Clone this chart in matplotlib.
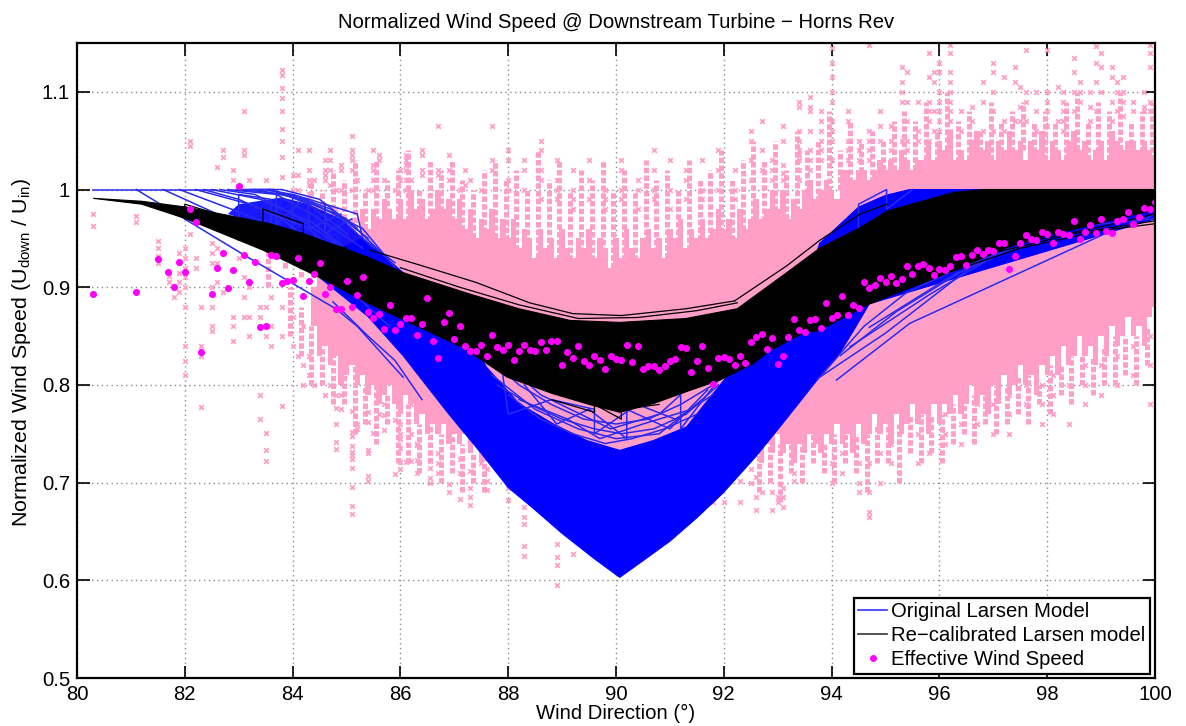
import matplotlib
matplotlib.use('Agg')
import matplotlib.pyplot as plt
from matplotlib.lines import Line2D

plt.rcParams['font.family'] = ['Liberation Sans', 'DejaVu Sans']
plt.rcParams['mathtext.fontset'] = 'custom'
plt.rcParams['mathtext.rm'] = 'Liberation Sans'

PINK = '#ff9fc8'
BLUE = '#0000ff'
LINE_BLUE = '#2a2aee'
MAGENTA = '#ff00ff'

# dense part of the measurements, one column per direction bin
pink_dir = [84.4, 84.5, 84.6, 84.7, 84.8, 84.9,
            85.0, 85.1, 85.2, 85.3, 85.4, 85.5, 85.6, 85.7, 85.8, 85.9,
            86.0, 86.1, 86.2, 86.3, 86.4, 86.5, 86.6, 86.7, 86.8, 86.9,
            87.0, 87.1, 87.2, 87.3, 87.4, 87.5, 87.6, 87.7, 87.8, 87.9,
            88.0, 88.1, 88.2, 88.3, 88.4, 88.5, 88.6, 88.7, 88.8, 88.9,
            89.0, 89.1, 89.2, 89.3, 89.4, 89.5, 89.6, 89.7, 89.8, 89.9,
            90.0, 90.1, 90.2, 90.3, 90.4, 90.5, 90.6, 90.7, 90.8, 90.9,
            91.0, 91.1, 91.2, 91.3, 91.4, 91.5, 91.6, 91.7, 91.8, 91.9,
            92.0, 92.1, 92.2, 92.3, 92.4, 92.5, 92.6, 92.7, 92.8, 92.9,
            93.0, 93.1, 93.2, 93.3, 93.4, 93.5, 93.6, 93.7, 93.8, 93.9,
            94.0, 94.1, 94.2, 94.3, 94.4, 94.5, 94.6, 94.7, 94.8, 94.9,
            95.0, 95.1, 95.2, 95.3, 95.4, 95.5, 95.6, 95.7, 95.8, 95.9,
            96.0, 96.1, 96.2, 96.3, 96.4, 96.5, 96.6, 96.7, 96.8, 96.9,
            97.0, 97.1, 97.2, 97.3, 97.4, 97.5, 97.6, 97.7, 97.8, 97.9,
            98.0, 98.1, 98.2, 98.3, 98.4, 98.5, 98.6, 98.7, 98.8, 98.9,
            99.0, 99.1, 99.2, 99.3, 99.4, 99.5, 99.6, 99.7, 99.8, 99.9, 100.0]
pink_top = [.90, .92, .91, .93, .94, .93,
            .95, .97, .95, .98, .96, .98, .97, .99, .98, .97,
            .99, .97, 1.0, .98, .99, .97, .98, 1.0, .98, .99,
            .97, .99, .96, .98, .95, .97, .96, .98, .95, .97,
            .95, .97, .94, .96, .95, .93, .96, .94, .95, .93,
            .96, .94, .93, .95, .94, .96, .93, .95, .94, .92,
            .95, .93, .96, .94, .93, .95, .96, .94, .95, .93,
            .96, .95, .97, .94, .96, .95, .97, .95, .96, .98,
            .96, .97, .95, .98, .96, .97, .99, .97, .98, 1.0,
            .98, 1.0, .97, .99, .98, 1.0, 1.01, .99, 1.0, 1.01,
            1.0, .99, 1.02, 1.02, 1.01, 1.02, 1.02, 1.01, 1.02, 1.03,
            1.02, 1.03, 1.02, 1.04, 1.03, 1.02, 1.03, 1.03, 1.05, 1.03,
            1.05, 1.04, 1.06, 1.03, 1.04, 1.03, 1.05, 1.06, 1.04, 1.05,
            1.03, 1.05, 1.04, 1.06, 1.04, 1.05, 1.03, 1.05, 1.04, 1.06,
            1.03, 1.05, 1.04, 1.03, 1.05, 1.06, 1.04, 1.05, 1.03, 1.04,
            1.05, 1.03, 1.06, 1.05, 1.04, 1.05, 1.05, 1.04, 1.05, 1.04, 1.03]
pink_low = [.86, .83, .84, .82, .83, .80,
            .81, .82, .80, .81, .79, .80, .78, .79, .80, .78,
            .77, .79, .78, .76, .77, .75, .76, .75, .76, .74,
            .75, .74, .75, .73, .74, .72, .73, .74, .73, .72,
            .72, .72, .72, .72, .72, .72, .72, .72, .72, .72,
            .72, .72, .72, .72, .72, .72, .72, .72, .72, .72,
            .72, .72, .72, .72, .72, .72, .72, .72, .72, .72,
            .72, .72, .72, .72, .72, .72, .72, .72, .72, .72,
            .72, .73, .72, .73, .72, .74, .73, .72, .74, .73,
            .75, .73, .74, .72, .74, .73, .75, .74, .73, .75,
            .74, .76, .74, .75, .73, .76, .74, .75, .77, .75,
            .76, .74, .77, .75, .76, .78, .76, .77, .75, .78,
            .76, .78, .77, .79, .77, .78, .80, .78, .79, .77,
            .80, .78, .81, .79, .80, .82, .80, .81, .79, .82,
            .81, .83, .81, .84, .82, .83, .85, .83, .84, .82,
            .85, .83, .86, .84, .85, .87, .85, .86, .84, .87, .88]

# columns of stacked crosses above the dense part
stack_dir = [83.55, 83.85, 84.15, 84.35, 84.55, 84.75, 84.95, 85.15, 85.35, 85.55, 85.75, 85.95,
             86.15, 86.35, 86.55, 86.75, 86.95, 87.15, 87.35, 87.55, 87.75, 87.95,
             88.15, 88.35, 88.55, 88.75, 88.95, 89.15, 89.35, 89.55, 89.75, 89.95,
             90.15, 90.35, 90.55, 90.75, 90.95, 91.15, 91.35, 91.55, 91.75, 91.95,
             92.15, 92.35, 92.55, 92.75, 92.95, 93.15, 93.35, 93.55, 93.75, 93.95,
             94.15, 94.35, 94.55, 94.75, 94.95, 95.15, 95.35, 95.55, 95.75, 95.95,
             96.15, 96.35, 96.55, 96.75, 96.95, 97.15, 97.35, 97.55, 97.75, 97.95,
             98.15, 98.35, 98.55, 98.75, 98.95, 99.15, 99.35, 99.55, 99.75, 99.95]
stack_top = [.95, .99, .97, 1.01, 1.0, 1.02, 1.01, 1.03, 1.0, 1.03, 1.01, 1.02,
             1.04, 1.0, 1.03, 1.02, 1.03, 1.01, 1.0, 1.02, 1.03, 1.01,
             1.02, 1.0, 1.04, 1.01, 1.03, 1.0, 1.02, 1.01, 1.03, 1.0,
             1.02, 1.0, 1.03, 1.01, 1.02, 1.0, 1.03, 1.01, 1.02, 1.04,
             1.01, 1.03, 1.05, 1.03, 1.05, 1.02, 1.06, 1.04, 1.05, 1.08,
             1.04, 1.07, 1.05, 1.06, 1.05, 1.07, 1.08, 1.07, 1.09, 1.06,
             1.10, 1.07, 1.08, 1.06, 1.09, 1.07, 1.08, 1.09, 1.07, 1.08,
             1.07, 1.09, 1.10, 1.07, 1.09, 1.08, 1.10, 1.07, 1.08, 1.09]
stack_bottom = [.90, .92, .91, .93, .88, .90, .93, .95, .96, .96, .96, .97,
                .96, .97, .96, .97, .96, .95, .95, .94, .95, .94,
                .93, .93, .93, .93, .92, .92, .92, .92, .92, .92,
                .92, .92, .93, .92, .93, .93, .93, .94, .94, .94,
                .94, .95, .96, .96, .97, .97, .97, .98, .98, .99,
                1.0, 1.0, 1.01, 1.0, 1.02, 1.02, 1.02, 1.02, 1.03, 1.02,
                1.04, 1.02, 1.03, 1.03, 1.03, 1.03, 1.03, 1.04, 1.03, 1.03,
                1.03, 1.03, 1.04, 1.03, 1.03, 1.03, 1.04, 1.03, 1.03, 1.03]

# columns of stacked crosses below the dense part
under_dir = [83.95, 84.15, 84.35, 84.55, 84.75, 84.95, 85.15, 85.35, 85.55, 85.75, 85.95,
             86.15, 86.35, 86.55, 86.75, 86.95, 87.15, 87.35, 87.55,
             92.65, 92.85, 93.05, 93.25, 93.45, 93.65, 93.85, 94.05, 94.25, 94.45, 94.65, 94.85,
             95.05, 95.25, 95.45, 95.65, 95.85, 96.05, 96.25, 96.45, 96.65, 96.85,
             97.05, 97.25, 97.45, 97.65, 97.85, 98.05, 98.25, 98.45, 98.65, 98.85,
             99.05, 99.25, 99.45, 99.65, 99.85]
under_top = [.90, .88, .86, .84, .84, .82, .82, .80, .80, .79, .79,
             .78, .76, .76, .75, .75, .74, .73, .74,
             .74, .74, .74, .74, .74, .75, .74, .75, .75, .75, .75, .76,
             .76, .76, .77, .77, .77, .77, .78, .78, .79, .79,
             .80, .80, .81, .81, .80, .82, .82, .83, .83, .83,
             .84, .85, .85, .85, .86]
under_low = [.85, .83, .80, .80, .78, .78, .75, .76, .74, .76, .72,
             .72, .71, .72, .70, .71, .69, .70, .69,
             .69, .70, .68, .71, .70, .72, .71, .70, .72, .71, .69, .72,
             .72, .70, .73, .72, .73, .72, .74, .75, .74, .76,
             .75, .76, .77, .76, .78, .77, .79, .78, .80, .79,
             .80, .80, .81, .80, .82]

# sparse measurements, values listed per direction bin
sparse_dir = [80.3, 81.1, 81.5, 81.7, 81.8, 81.9, 82.0, 82.1, 82.2, 82.3, 82.5, 82.6, 82.7, 82.9, 83.0,
              83.1, 83.2, 83.4, 83.5, 83.6, 83.8, 84.0, 84.1, 84.2, 84.3, 84.4, 84.6, 84.7, 84.8, 84.9,
              85.1, 85.2, 85.4, 85.5, 85.6, 85.7, 85.9, 86.0, 86.1, 86.2, 86.3, 86.4, 86.55, 86.7, 86.9,
              87.1, 87.2, 87.3, 87.5, 87.6, 87.7, 88.0, 88.3, 88.6, 88.9, 89.2, 89.5, 89.8, 90.1, 90.4,
              90.7, 91.0, 91.3, 91.6, 91.8, 91.9, 92.0, 92.2, 92.3, 92.5, 92.6, 92.7, 92.9, 93.0, 93.1,
              93.3, 93.4, 93.6, 93.8, 94.0, 94.2, 94.3, 94.5, 94.7, 94.9, 95.1, 95.3, 95.4, 95.6, 95.8,
              95.9, 96.0, 96.1, 96.2, 96.4, 96.6, 96.7, 96.8, 97.0, 97.2, 97.3, 97.4, 97.5, 97.6, 97.8,
              97.9, 98.0, 98.1, 98.2, 98.3, 98.4, 98.5, 98.6, 98.7, 98.8, 98.9, 99.0, 99.2, 99.3, 99.4,
              99.6, 99.8, 99.9]
sparse_vals = [[.975, .963], [.973, .967], [.947, .94, .932, .925], [.912, .905], [.9, .89],
               [.935, .925, .915, .905, .895], [.94, .93, .92, .91, .9, .88, .84, .825, .81],
               [1.05, 1.045, .97, .955], [.93, .92], [.88, .84, .83, .777],
               [.945, .935, .925, .9, .88, .86, .855], [1.023, .94, .925, .905], [1.04, 1.033, .895],
               [1.02, 1.01, .87, .86, .845], [1.0, .95, .93], [1.08, 1.04, 1.035, .91, .89, .87],
               [1.01, .9, .87, .85], [.88, .87, .79, .765], [1.01, .88, .85, .751, .733, .722],
               [1.0, .89, .86, .84], [1.122, 1.117, 1.104, 1.094, 1.08, 1.062, 1.05, 1.033, 1.013, .88, .85, .778],
               [1.015, 1.0, .87, .84], [1.04, 1.015, 1.0, .83], [.98, .86, .82, .8],
               [1.04, 1.02, 1.01, 1.005, .995, .99, .83, .81], [1.01, .98, .8], [1.03, 1.02, 1.015, 1.01, .96, .79],
               [1.04, 1.03, 1.02, 1.005, .97, .8], [1.0, .98, .79, .776, .76, .742, .734],
               [1.025, 1.02, 1.0, .79, .775],
               [1.055, 1.04, 1.035, 1.03, 1.02, 1.0, .773, .752, .748, .737, .731, .728, .724, .715, .696, .676, .668],
               [1.01, .76, .755], [1.0, .772, .762, .733, .73, .707, .702], [1.04, 1.025, 1.02, 1.01, 1.0, .751],
               [1.035, 1.03, .77], [1.01, .78, .769, .754], [1.0, .764, .709],
               [1.02, 1.01, .76, .75, .745, .735, .721, .714], [1.035, 1.03, 1.025, 1.02, 1.01, 1.0, .721],
               [1.01, .78, .75, .722], [.74, .738, .723, .71], [1.04, 1.035, 1.02, 1.015],
               [.722, .715, .705, .7], [1.065, 1.02, 1.015, .73, .72, .71], [1.035, 1.02, 1.01, .699, .69],
               [1.0, .724, .71, .683], [1.02, 1.005], [1.01, .712, .695, .685, .677], [.726, .72, 1.0],
               [.714, .702, .692], [1.065, 1.03, 1.02], [1.04, 1.03, 1.01, 1.0, .695, .682],
               [1.03, 1.02, 1.0, .675, .665, .658, .635, .625], [1.05, 1.04, 1.02, 1.01, .99],
               [1.03, 1.01, 1.0, .99, .637, .624, .616, .595], [1.02, 1.0, .99, .98, .627], [1.03, 1.01, .99],
               [1.0, .99, .98], [1.03, 1.02, 1.0, .99], [1.01, 1.0, .98],
               [1.04, 1.02, 1.0, .99], [1.03, 1.0, .98], [1.02, 1.01, .99], [1.03, 1.0, .99], [.68],
               [1.04, 1.02, 1.0], [.68], [1.02, 1.0, .99], [.702, .68], [1.06, 1.05, 1.03, 1.01, .714, .7],
               [.706, .685, .672], [1.07, 1.04, 1.02, .69], [1.03, 1.02, 1.01, .69, .672], [.685, .68],
               [1.065, 1.05, 1.025, 1.017, 1.01, .695, .685, .675], [.702, .71],
               [1.09, 1.085, 1.06, 1.05, 1.04, 1.035, 1.03, 1.02, 1.01], [1.095, 1.085, 1.08, 1.06, 1.04, 1.03, 1.02],
               [1.08, 1.07, 1.06, 1.05, 1.04, 1.03], [1.145, 1.13, 1.115, 1.1, 1.09, 1.07, 1.06, 1.05, 1.03, .72, .7],
               [.73, .71], [1.08, 1.07, 1.05, 1.04, 1.03], [1.05, 1.04, 1.03, .72, .7, .69],
               [1.148, 1.06, 1.05, 1.04, 1.03, .72, .69, .67, .665], [1.08, 1.065, 1.05, .73, .7],
               [1.065, 1.05, 1.04, 1.03, .74, .72], [1.125, 1.11, 1.1, 1.09, 1.05], [1.12, 1.09, 1.07, 1.05, 1.04],
               [1.09, 1.06, 1.05, .75, .72], [1.14, 1.115, 1.09, 1.08, 1.07, 1.05, .76, .73],
               [1.12, 1.11, 1.08, 1.06], [1.13, 1.12, 1.1, 1.09, 1.08, 1.07, 1.06, 1.04], [.77, .75, .74],
               [1.148, 1.14, 1.12, 1.11, 1.1, 1.09, 1.08, 1.07, 1.06], [1.08, 1.06, .76, .74],
               [1.085, 1.07, 1.05], [.78, .76], [1.11, 1.09, 1.06], [1.13, 1.12, 1.1, 1.08, 1.06, .78, .75],
               [1.115, 1.07, 1.06], [.79, .77, .75], [1.125, 1.11, 1.07], [1.105, 1.085, 1.07],
               [1.143, 1.1, 1.09, 1.07, .8, .78], [1.1, 1.08, 1.06], [.8, .78, .76],
               [1.143, 1.1, 1.09, 1.08, 1.065], [.81, .79, .77], [1.105, 1.07], [1.1, 1.09, 1.08, 1.07, 1.06],
               [.8, .76], [1.135, 1.12, 1.1, 1.08], [1.11, 1.1, 1.09], [.82, .8, .78], [1.1, 1.085, 1.07],
               [1.147, 1.13, 1.11, 1.08], [1.14, 1.125, 1.1, .82, .79], [1.125, 1.115, 1.09, 1.07],
               [1.11, 1.1, 1.08, .83, .8], [1.115, 1.1, 1.09, 1.075], [1.09, 1.08, .84, .81],
               [1.1, 1.085, 1.08], [1.148, 1.14, 1.125, 1.09, 1.08, .85, .82, .78]]

# outline of the solid blue (original model) band
blue_top_dir = [84.5, 85.3, 85.8, 87.17, 87.6, 88.2, 88.84, 89.46, 90.07, 90.69, 91.31, 91.8, 92.05, 92.55,
                93.5, 93.78, 94.5, 95.0, 95.45, 100.0]
blue_top_val = [.93, .95, .927, .86, .818, .781, .76, .743, .733, .743, .757, .791, .808, .83,
                .9, .945, .982, .994, 1.0, 1.0]
blue_low_dir = [100.0, 94.7, 94.4, 94.1, 93.73, 93.2, 92.6, 91.98, 91.5, 91.0, 90.5, 90.07,
                89.6, 89.0, 88.5, 88.0, 87.5, 86.9, 86.36, 86.05, 85.4, 84.5]
blue_low_val = [.97, .883, .855, .828, .805, .768, .727, .689, .664, .64, .62, .603,
                .622, .648, .672, .695, .73, .77, .808, .83, .87, .91]

# shaded part of the blue fan on the left, the lines there are too dense to tell apart
blue_fan_dir = [83.0, 83.8, 84.3, 84.9, 85.3, 85.8, 85.4, 84.5, 83.6, 82.8]
blue_fan_val = [.985, .992, .985, .97, .95, .925, .92, .94, .96, .975]

# outline of the solid black (re-calibrated) band
black_top_dir = [80.3, 81.2, 82.03, 83.58, 84.2, 85.43, 86.05, 87.29, 88.2, 89.15, 90.07, 91.3, 92.25, 93.17, 93.78,
                 94.53, 95.03, 96.26, 96.8, 100.0]
black_top_val = [.991, .988, .982, .965, .955, .93, .915, .893, .878, .866, .864, .868, .878, .915, .94,
                 .961, .978, .997, 1.0, 1.0]
black_low_dir = [99.97, 98.4, 97.43, 96.8, 95.95, 94.7, 93.78, 93.47, 92.85, 92.55, 91.93, 91.3, 90.7, 90.07,
                 89.57, 88.83, 87.98, 87.17, 85.43, 84.5, 83.45, 82.03, 81.2, 80.3]
black_low_val = [.979, .958, .945, .93, .91, .883, .856, .853, .835, .822, .805, .793, .781, .772,
                 .779, .791, .808, .838, .883, .91, .938, .97, .985, .991]

# single model runs that stand out of the solid bands
blue_lines = [
    ([80.3, 82.6], [1.0, 1.0]),
    ([81.1, 83.1, 84.8, 85.2, 86.05], [1.0, .933, .878, .86, .808]),
    ([81.6, 83.0, 84.0, 85.0, 85.8], [1.0, .965, .94, .9, .86]),
    ([81.9, 83.1, 84.2, 84.9], [1.0, .975, .95, .91]),
    ([82.2, 83.2, 84.3, 85.0], [1.0, .985, .96, .925]),
    ([82.5, 83.4, 84.4, 85.2], [1.0, .99, .965, .93]),
    ([82.8, 83.7, 84.5, 85.3], [1.0, .995, .97, .94]),
    ([83.0, 83.9, 84.8, 85.5], [1.0, .995, .975, .94]),
    ([83.3, 84.2, 85.0, 85.8], [1.0, .99, .97, .927]),
    ([83.6, 84.4, 85.3, 85.9], [1.0, .985, .96, .92]),
    ([82.35, 83.0, 83.8, 84.7], [1.0, .99, .97, .93]),
    ([82.65, 83.3, 84.0, 84.8], [1.0, .995, .975, .945]),
    ([82.95, 83.6, 84.3, 85.0], [1.0, 1.0, .985, .955]),
    ([83.2, 83.8, 84.5, 85.2], [1.0, 1.0, .99, .96]),
    ([83.45, 84.0, 84.7, 85.4], [1.0, .995, .98, .95]),
    ([84.0, 84.0, 84.6, 84.6, 85.1], [.96, .995, .985, .955, .97]),
    ([84.6, 84.6, 85.2, 85.3, 85.9], [.96, .985, .975, .95, .925]),
    ([83.0, 83.0, 83.6, 83.6, 84.2], [.97, .995, .99, .96, .99]),
    ([83.7, 83.7, 84.3, 84.3, 84.9], [.965, .998, .99, .96, .975]),
    ([84.75, 85.4, 85.9, 86.4], [.885, .85, .825, .785]),
    ([87.6, 88.2, 88.8, 89.4, 90.0, 90.6, 91.2, 91.8, 92.0], [.83, .80, .78, .765, .76, .765, .78, .80, .81]),
    ([87.8, 88.4, 89.0, 89.6, 90.1, 90.7, 91.3, 91.9], [.80, .78, .765, .755, .75, .755, .77, .80]),
    ([88.0, 88.6, 89.2, 89.8, 90.3, 90.9, 91.5], [.79, .765, .75, .74, .745, .755, .77]),
    ([87.9, 88.0, 88.8, 89.6, 89.6, 90.4, 91.1, 91.8], [.81, .77, .785, .775, .75, .78, .765, .79]),
    ([88.3, 88.9, 89.5, 90.2, 90.2, 91.0, 91.7], [.80, .76, .775, .745, .775, .755, .795]),
    ([88.1, 88.6, 89.9, 90.8, 91.2, 91.2, 91.9], [.815, .79, .755, .77, .79, .755, .805]),
    ([87.7, 88.5, 89.3, 90.0, 90.8, 91.6], [.81, .775, .755, .745, .75, .785]),
    ([88.2, 89.1, 89.7, 90.5, 91.4], [.785, .765, .745, .76, .775]),
    ([94.5, 94.5, 95.02, 95.02, 95.5], [.96, .985, 1.0, .98, 1.0]),
    ([93.73, 94.6, 95.4, 96.6, 97.4], [.805, .86, .895, .925, .94]),
    ([93.78, 95.0, 96.57, 97.2], [.808, .853, .92, .937]),
    ([94.16, 95.2, 96.94], [.83, .875, .934]),
    ([94.34, 95.83, 97.3], [.839, .893, .941]),
    ([94.7, 96.3, 97.0], [.859, .914, .93]),
    ([94.09, 95.45, 99.16, 99.97], [.805, .863, .957, .974]),
    ([97.2, 98.5, 99.97], [.945, .962, .97]),
]
black_lines = [
    ([85.43, 86.4, 87.4, 88.4, 89.2, 90.1, 91.3, 92.2], [.938, .922, .905, .884, .873, .871, .878, .886]),
    ([86.0, 87.1, 88.2, 89.3, 90.4, 91.5, 92.25], [.92, .9, .882, .868, .869, .876, .884]),
    ([94.7, 96.0, 97.5, 99.0, 100.0], [.883, .912, .94, .958, .965]),
    ([95.5, 97.0, 98.5, 100.0], [.905, .935, .955, .968]),
    ([96.0, 97.5, 99.0, 100.0], [.918, .945, .962, .975]),
    ([92.2, 93.17, 93.78, 94.53, 95.03], [.886, .922, .948, .975, .985]),
    ([82.0, 82.0, 82.6, 82.6, 83.2], [.97, .985, .975, .965, .96]),
    ([83.45, 83.45, 84.2, 84.2, 85.0], [.955, .98, .965, .95, .94]),
    ([88.8, 89.6, 89.6, 90.1, 90.1, 90.8], [.785, .772, .78, .765, .775, .78]),
]

# effective wind speed, binned means
eff_dir = [80.3, 81.09, 81.5, 81.69, 81.8, 81.9, 82.0, 82.1, 82.2, 82.3, 82.5, 82.6, 82.7, 82.8, 82.9,
           83.0, 83.1, 83.2, 83.3, 83.4, 83.5, 83.6, 83.7, 83.8, 83.9, 84.0, 84.1, 84.2, 84.3, 84.4,
           84.5, 84.6, 84.7, 84.8, 84.9, 85.0, 85.1, 85.2, 85.3, 85.4, 85.5, 85.6, 85.7, 85.8, 85.9,
           86.0, 86.1, 86.2, 86.3, 86.4, 86.5, 86.6, 86.7, 86.8, 86.9, 87.0, 87.1, 87.2, 87.3, 87.4,
           87.5, 87.6, 87.7, 87.8, 87.9, 88.0, 88.1, 88.2, 88.3, 88.4, 88.5, 88.6, 88.7, 88.8, 88.9,
           89.0, 89.1, 89.2, 89.3, 89.4, 89.5, 89.6, 89.7, 89.8, 89.9, 90.0, 90.1, 90.2, 90.3, 90.4,
           90.5, 90.6, 90.7, 90.8, 90.9, 91.0, 91.1, 91.2, 91.3, 91.4, 91.5, 91.6, 91.7, 91.8, 91.9,
           92.0, 92.1, 92.2, 92.3, 92.4, 92.5, 92.6, 92.7, 92.8, 92.9, 93.0, 93.1, 93.2, 93.3, 93.4,
           93.5, 93.6, 93.7, 93.8, 93.9, 94.0, 94.1, 94.2, 94.3, 94.4, 94.5, 94.6, 94.7, 94.8, 94.9,
           95.0, 95.1, 95.2, 95.3, 95.4, 95.5, 95.6, 95.7, 95.8, 95.9, 96.0, 96.1, 96.2, 96.3, 96.4,
           96.5, 96.6, 96.7, 96.8, 96.9, 97.0, 97.1, 97.2, 97.3, 97.4, 97.5, 97.6, 97.7, 97.8, 97.9,
           98.0, 98.1, 98.2, 98.3, 98.4, 98.5, 98.6, 98.7, 98.8, 98.9, 99.0, 99.1, 99.2, 99.3, 99.4,
           99.5, 99.6, 99.7, 99.8, 99.9, 100.0]
eff_val = [.893, .895, .929, .916, .900, .926, .916, .980, .967, .834, .893, .920, .935, .899, .918,
           1.004, .933, .905, .926, .859, .860, .933, .932, .904, .906, .907, .930, .891, .906, .914,
           .925, .893, .900, .878, .878, .906, .880, .892, .910, .875, .868, .873, .857, .882, .856,
           .862, .869, .868, .851, .862, .889, .845, .828, .864, .874, .847, .860, .840, .835, .835,
           .841, .830, .851, .839, .836, .841, .826, .835, .841, .836, .835, .844, .836, .845, .845,
           .820, .834, .828, .840, .825, .820, .830, .826, .816, .830, .827, .826, .841, .823, .840,
           .816, .819, .819, .815, .819, .825, .827, .839, .838, .813, .825, .840, .817, .801, .828,
           .829, .827, .820, .830, .822, .844, .849, .852, .837, .848, .821, .830, .849, .867, .856,
           .854, .866, .867, .858, .884, .868, .872, .891, .872, .882, .879, .905, .899, .902, .909,
           .905, .911, .904, .908, .922, .914, .922, .924, .920, .913, .919, .918, .922, .931, .932,
           .923, .933, .938, .934, .938, .937, .945, .945, .919, .932, .945, .953, .949, .948, .957,
           .955, .945, .957, .955, .953, .968, .949, .957, .964, .956, .970, .958, .956, .968, .970,
           .977, .965, .972, .981, .980, .987]

x_ticks = [80, 82, 84, 86, 88, 90, 92, 94, 96, 98, 100]
y_ticks = [0.5, 0.6, 0.7, 0.8, 0.9, 1.0, 1.1]
y_tick_labels = ['0.5', '0.6', '0.7', '0.8', '0.9', '1', '1.1']

fig = plt.figure(figsize=(11.86, 7.26), dpi=100)
ax = fig.add_axes([77 / 1186, 1 - 678 / 726, 1078 / 1186, 635 / 726])

# measurements
heights = [t - l for t, l in zip(pink_top, pink_low)]
ax.bar(pink_dir, heights, 0.1, bottom=pink_low, color=PINK, linewidth=0, zorder=2)
ax.vlines(stack_dir, stack_bottom, stack_top, color=PINK, lw=3.6, linestyles=(0, (1.1, 0.45)), zorder=2)
ax.vlines(under_dir, under_low, under_top, color=PINK, lw=3.6, linestyles=(0, (1.1, 0.45)), zorder=2)
for d, vals in zip(sparse_dir, sparse_vals):
    ax.scatter([d] * len(vals), vals, marker='x', s=11, linewidths=1.3, color=PINK, zorder=2)

# model bands
ax.fill(blue_top_dir + blue_low_dir, blue_top_val + blue_low_val, color=BLUE, linewidth=0.8, zorder=3)
ax.fill(blue_fan_dir, blue_fan_val, color=BLUE, alpha=0.9, linewidth=0, zorder=3)
for x, y in blue_lines:
    ax.plot(x, y, color=LINE_BLUE, lw=1.1, zorder=3)
ax.fill(black_top_dir + black_low_dir, black_top_val + black_low_val, color='black', linewidth=0.8, zorder=4)
for x, y in black_lines:
    ax.plot(x, y, color='black', lw=0.9, zorder=4)

ax.scatter(eff_dir, eff_val, s=26, color=MAGENTA, linewidths=0, zorder=5)

ax.set_xlim(80, 100)
ax.set_ylim(0.5, 1.15)
ax.set_xticks(x_ticks)
ax.set_yticks(y_ticks)
ax.set_yticklabels(y_tick_labels)
ax.set_axisbelow(True)
ax.grid(True, linestyle=(0, (1, 2.5)), color='#8c8c8c', linewidth=1.0)
ax.tick_params(direction='in', length=9, width=1.2, labelsize=14.6, top=True, right=True, pad=5)
for spine in ax.spines.values():
    spine.set_linewidth(1.6)
    spine.set_zorder(6)

ax.set_title('Normalized Wind Speed @ Downstream Turbine \u2212 Horns Rev', fontsize=14.6, pad=11)
ax.set_xlabel('Wind Direction (\u00b0)', fontsize=14.6, labelpad=0)
ax.set_ylabel(r'Normalized Wind Speed (U$_{\mathrm{down}}$ / U$_{\mathrm{in}}$)', fontsize=15.4, labelpad=6, y=0.513)

handles = [Line2D([], [], color='#3333ff', lw=1.2),
           Line2D([], [], color='#333333', lw=1.2),
           Line2D([], [], color=MAGENTA, marker='o', ms=5, mew=0, ls='none')]
labels = ['Original Larsen Model', 'Re\u2212calibrated Larsen model', 'Effective Wind Speed']
leg = ax.legend(handles, labels, loc='lower right', bbox_to_anchor=(0.9955, 0.007), fontsize=14.6,
                fancybox=False, framealpha=1, edgecolor='black', borderaxespad=0, borderpad=0.22,
                labelspacing=0.24, handlelength=1.45, handletextpad=0.2)
leg.get_frame().set_linewidth(1.6)
leg.set_zorder(7)

fig.savefig('out.png', dpi=100)
